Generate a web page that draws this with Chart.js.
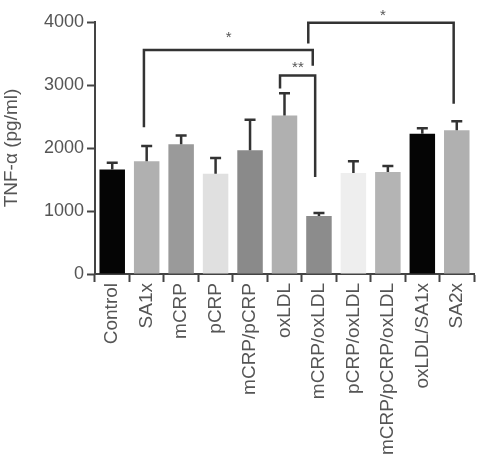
<!DOCTYPE html>
<html>
<head>
<meta charset="utf-8">
<script src="https://cdn.jsdelivr.net/npm/chart.js@4.4.1/dist/chart.umd.min.js"></script>
<style>
  html, body { margin: 0; padding: 0; background: #fff; }
  #wrap { width: 484px; height: 460px; }
</style>
</head>
<body>
<div id="wrap"><canvas id="tnf"></canvas></div>
<script>
const groups = ['Control', 'SA1x', 'mCRP', 'pCRP', 'mCRP/pCRP', 'oxLDL', 'mCRP/oxLDL',
                'pCRP/oxLDL', 'mCRP/pCRP/oxLDL', 'oxLDL/SA1x', 'SA2x'];
const means = [1660, 1790, 2060, 1590, 1965, 2515, 920, 1605, 1620, 2225, 2280];
const errors = [105, 240, 140, 250, 485, 355, 50, 185, 95, 90, 145];
const bar_colors = ['#050505', '#b0b0b0', '#9a9a9a', '#e0e0e0', '#8a8a8a', '#b0b0b0',
                    '#8c8c8c', '#eeeeee', '#b4b4b4', '#050505', '#b0b0b0'];
const y_ticks = [0, 1000, 2000, 3000, 4000];

// significance brackets (category position, value)
const bracket_left = [0.92, 4.87, 5.69];
const bracket_right = [5.82, 5.89, 9.91];
const bracket_top = [3555, 3150, 3987];
const bracket_left_end = [2331, 2943, 3660];
const bracket_right_end = [3307, 1540, 2701];
const star_text = ['*', '**', '*'];
const star_pos = [3.38, 5.39, 7.86];
const star_value = [3813, 3339, 4166];

const ink = '#444';
const font_family = '"Liberation Sans", Arial, sans-serif';

const errorBars = {
    id: 'errorBars',
    afterDatasetsDraw(chart){
        const ctx = chart.ctx;
        const meta = chart.getDatasetMeta(0);
        const y = chart.scales.y;
        ctx.save();
        ctx.strokeStyle = '#333';
        ctx.lineWidth = 2.5;
        for (let i = 0; i < means.length; i++){
            const bar = meta.data[i];
            const top = y.getPixelForValue(means[i] + errors[i]);
            ctx.beginPath();
            ctx.moveTo(bar.x, bar.y);
            ctx.lineTo(bar.x, top);
            ctx.moveTo(bar.x - 5.5, top);
            ctx.lineTo(bar.x + 5.5, top);
            ctx.stroke();
        }
        ctx.restore();
    }
};

const brackets = {
    id: 'brackets',
    afterDraw(chart){
        const ctx = chart.ctx;
        const x = chart.scales.x;
        const y = chart.scales.y;
        ctx.save();
        ctx.strokeStyle = '#333';
        ctx.lineWidth = 2.5;
        ctx.lineJoin = 'miter';
        for (let i = 0; i < bracket_left.length; i++){
            const xl = x.getPixelForValue(bracket_left[i]);
            const xr = x.getPixelForValue(bracket_right[i]);
            ctx.beginPath();
            ctx.moveTo(xl, y.getPixelForValue(bracket_left_end[i]));
            ctx.lineTo(xl, y.getPixelForValue(bracket_top[i]));
            ctx.lineTo(xr, y.getPixelForValue(bracket_top[i]));
            ctx.lineTo(xr, y.getPixelForValue(bracket_right_end[i]));
            ctx.stroke();
        }
        ctx.fillStyle = '#555';
        ctx.font = '15px ' + font_family;
        ctx.textAlign = 'center';
        ctx.textBaseline = 'alphabetic';
        for (let i = 0; i < star_text.length; i++){
            ctx.fillText(star_text[i], x.getPixelForValue(star_pos[i]),
                         y.getPixelForValue(star_value[i]) + 8.5);
        }
        ctx.restore();
    }
};

const ctx = document.getElementById('tnf').getContext('2d');
const chart = new Chart(ctx, {
    type: 'bar',
    data: {
        labels: groups,
        datasets: [{
            data: means,
            backgroundColor: bar_colors,
            borderWidth: 0,
            barPercentage: 0.74,
            categoryPercentage: 1.0
        }]
    },
    options: {
        responsive: true,
        maintainAspectRatio: false,
        animation: false,
        events: [],
        layout: { padding: { top: 22, right: 10, left: 0, bottom: 0 } },
        plugins: {
            legend: { display: false },
            tooltip: { enabled: false }
        },
        scales: {
            x: {
                grid: { drawOnChartArea: false, tickLength: 8, tickColor: ink, tickWidth: 2 },
                border: { color: ink, width: 2 },
                ticks: {
                    color: '#555',
                    font: { family: font_family, size: 19 },
                    maxRotation: 90, minRotation: 90, padding: 1, autoSkip: false
                },
                afterFit(scale){ scale.height = 186; }
            },
            y: {
                min: 0, max: 4000,
                afterBuildTicks(scale){ scale.ticks = y_ticks.map(v => ({ value: v })); },
                grid: { drawOnChartArea: false, tickLength: 8, tickColor: ink, tickWidth: 2 },
                border: { color: ink, width: 2 },
                ticks: {
                    color: '#555',
                    font: { family: font_family, size: 18 },
                    padding: 3,
                    callback: v => String(v)
                },
                title: {
                    display: true,
                    text: 'TNF-α (pg/ml)',
                    color: '#555',
                    font: { family: font_family, size: 19 },
                    padding: { top: 0, bottom: 0 }
                },
                afterFit(scale){ scale.width = 95; }
            }
        }
    },
    plugins: [errorBars, brackets]
});
</script>
</body>
</html>
